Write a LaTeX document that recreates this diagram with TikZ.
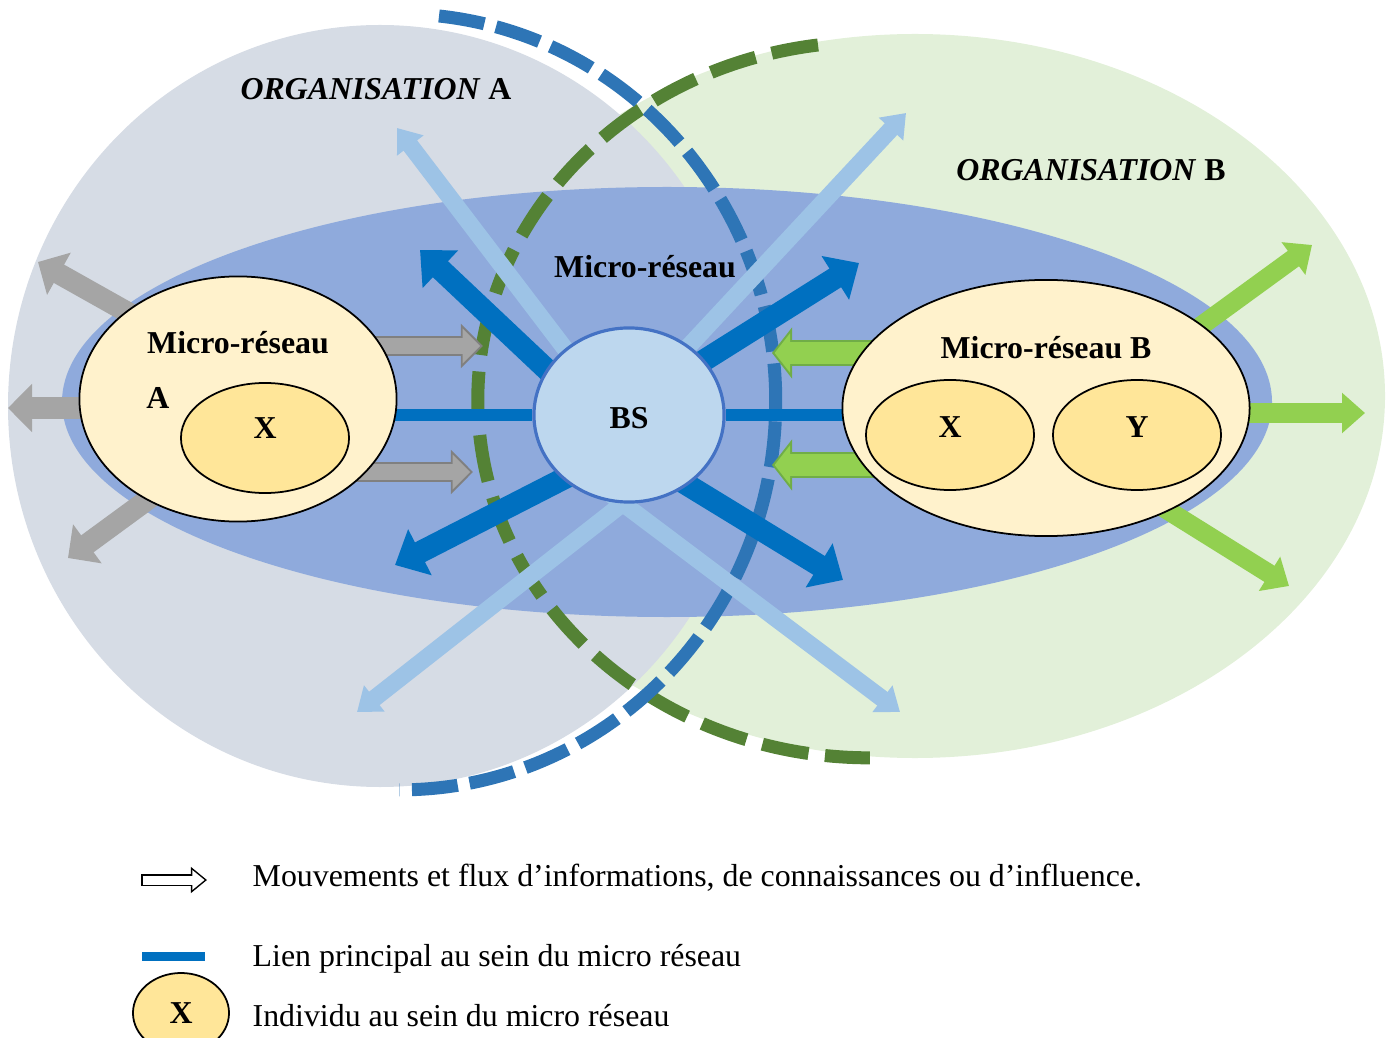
\documentclass[tikz,border=0pt]{standalone}
\usepackage{fontspec}
\setmainfont{Liberation Serif}
\usepackage{xcolor}
\usepackage{tikz}
\usetikzlibrary{arrows.meta,positioning,shapes.geometric}
\pgfdeclarelayer{back}
\pgfdeclarelayer{mid}
\pgfsetlayers{back,mid,main}

\definecolor{orgGray}{HTML}{D6DCE5}
\definecolor{orgGreen}{HTML}{E2F0D9}
\definecolor{mrBlue}{HTML}{8FAADC}
\definecolor{mrFill}{HTML}{FFF2CC}
\definecolor{indFill}{HTML}{FFE699}
\definecolor{bsFill}{HTML}{BDD7EE}
\definecolor{bsEdge}{HTML}{4472C4}
\definecolor{dkBlue}{HTML}{0070C0}
\definecolor{ltBlue}{HTML}{9DC3E6}
\definecolor{dashBlue}{HTML}{2E75B6}
\definecolor{dashGreen}{HTML}{548235}
\definecolor{grArrow}{HTML}{A5A5A5}
\definecolor{grEdge}{HTML}{808080}
\definecolor{gnArrow}{HTML}{92D050}
\definecolor{gnEdge}{HTML}{70AD47}

\newcommand{\figfont}{\fontsize{9.06}{11}\selectfont}

\begin{document}
\begin{tikzpicture}[
  x=0.01cm, y=-0.01cm,
  font=\figfont,
  microbox/.style = {ellipse, draw, line width=0.5pt, fill=mrFill, inner sep=0pt},
  indiv/.style = {ellipse, draw, line width=0.5pt, fill=indFill, inner sep=0pt,
                  minimum width=1.68cm, minimum height=1.1cm, font=\figfont\bfseries},
  lbl/.style = {font=\figfont\bfseries, inner sep=1pt},
  bsnode/.style = {ellipse, draw=bsEdge, line width=0.9pt, fill=bsFill, inner sep=0pt,
                   minimum width=1.9cm, minimum height=1.74cm, font=\figfont\bfseries},
  link/.style = {draw=dkBlue, line width=1.2mm},
  lbarr/.style = {draw=ltBlue, line width=1.7mm, shorten <=-2mm,
                  -{Triangle[width=3.2mm,length=2.2mm]}},
  dbarr/.style = {draw=dkBlue, line width=2.2mm, shorten <=-2mm,
                  -{Triangle[width=5mm,length=2.8mm]}},
  grarr/.style = {draw=grArrow, line width=2.1mm, shorten <=-2mm,
                  -{Triangle[width=4.7mm,length=2.4mm]}},
  grout/.style = {draw=grArrow, line width=1.5mm,
                  -{Triangle[width=3.4mm,length=1.75mm,sep=0.28mm]},
                  preaction={draw=grEdge, line width=1.9mm,
                             -{Triangle[width=4.3mm,length=2.2mm]}}},
  gnarr/.style = {draw=gnArrow, line width=1.9mm, shorten <=-2mm,
                  -{Triangle[width=3.9mm,length=2.3mm]}},
  gnout/.style = {draw=gnArrow, line width=2.1mm,
                  -{Triangle[width=3.86mm,length=1.54mm,sep=0.26mm]},
                  preaction={draw=gnEdge, line width=2.5mm,
                             -{Triangle[width=5mm,length=2mm]}}},
  legarr/.style = {draw=white, line width=0.9mm, shorten <=0.15mm,
                   -{Triangle[width=1.88mm,length=1.21mm,sep=0.24mm]},
                   preaction={draw=black, line width=1.2mm, shorten <=0mm,
                              -{Triangle[width=2.5mm,length=1.6mm]}}},
  dashA/.style = {draw=dashBlue, line width=1.3mm, dash pattern=on 4.6mm off 1.2mm},
  dashB/.style = {draw=dashGreen, line width=1.3mm, dash pattern=on 4.7mm off 1.66mm},
]
\useasboundingbox (0,0) rectangle (1392,1037);

% organisations and the shared micro-network
\begin{pgfonlayer}{back}
  \fill[orgGreen] (915,396) ellipse[x radius=470, y radius=362];
  \fill[orgGray] (380,406) ellipse[x radius=372, y radius=381];
  \fill[mrBlue] (667,402) ellipse[x radius=605, y radius=215];
  \draw[dashB] (818,45) arc[start angle=262.4, end angle=90, x radius=392, y radius=358];
  \draw[dashA] (439,16) arc[start angle=-84, end angle=90, x radius=376, y radius=388];
\end{pgfonlayer}

% micro-networks and individuals
\node[microbox, minimum width=3.17cm, minimum height=2.45cm] at (238,399) (mrA) {};
\node[indiv, text depth=2mm] at (265,438) (xA) {X};
\node[lbl] at (238,343) (labMrA) {Micro-réseau};
\node[lbl] at (158,398) (labA) {A};

\node[bsnode, text height=2.7mm, text depth=0mm] at (629,415) (bs) {BS};

\node[microbox, minimum width=4.07cm, minimum height=2.56cm] at (1046,408) (mrB) {};
\node[indiv, text depth=1.6mm] at (950,435) (xB) {X};
\node[indiv, text depth=1.6mm] at (1137,435) (yB) {Y};
\node[lbl] at (1046,348) (labMrB) {Micro-réseau B};

\node[lbl] at (376,89) (labOrgA) {\textit{ORGANISATION} A};
\node[lbl] at (1091,170) (labOrgB) {\textit{ORGANISATION} B};
\node[lbl] at (645,267) (labMr) {Micro-réseau};

% arrow ends
\coordinate (tLUL) at (397,128);
\coordinate (tLUR) at (906,113);
\coordinate (tLLL) at (357,712);
\coordinate (tLLR) at (900,712);
\coordinate (tDUL) at (420,250);
\coordinate (tDUR) at (859,263);
\coordinate (tDLL) at (395,565);
\coordinate (tDLR) at (843,580);
\coordinate (tGL)  at (8,408);
\coordinate (tGUL) at (38,262);
\coordinate (tGDL) at (68,558);
\coordinate (tGR1) at (483,346);
\coordinate (tGR2) at (473,472);
\coordinate (tNL1) at (772,353);
\coordinate (tNL2) at (772,465);
\coordinate (tNUR) at (1312,245);
\coordinate (tNR)  at (1365,413);
\coordinate (tNLR) at (1289,586);

\begin{pgfonlayer}{mid}
  \draw[lbarr] (bs.134) -- (tLUL);
  \draw[lbarr] (bs.49) -- (tLUR);
  \draw[lbarr] (bs.266) -- (tLLL);
  \draw[lbarr] (bs.266) -- (tLLR);
  \draw[dbarr] (bs.151) -- (tDUL);
  \draw[dbarr] (bs.36) -- (tDUR);
  \draw[dbarr] (bs.224) -- (tDLL);
  \draw[dbarr] (bs.310) -- (tDLR);
  \draw[grarr] (mrA.center |- tGL) -- (tGL);
  \draw[grarr] (mrA.142) -- (tGUL);
  \draw[grarr] (mrA.228) -- (tGDL);
  \draw[grout] (mrA.center |- tGR1) -- (tGR1);
  \draw[grout] (mrA.center |- tGR2) -- (tGR2);
  \draw[gnout] (mrB.center |- tNL1) -- (tNL1);
  \draw[gnout] (mrB.center |- tNL2) -- (tNL2);
  \draw[gnarr] (mrB.28) -- (tNUR);
  \draw[gnarr] (mrB.center |- tNR) -- (tNR);
  \draw[gnarr] (mrB.320) -- (tNLR);
  \draw[link] (bs.west) -- (bs.west -| mrA.center);
  \draw[link] (bs.east) -- (bs.east -| mrB.center);
\end{pgfonlayer}

% legend
\coordinate (lgA1) at (141,880);
\coordinate (lgA2) at (207,880);
\coordinate (lgB1) at (142,956);
\coordinate (lgB2) at (205,956);
\draw[legarr] (lgA1) -- (lgA2);
\draw[link, line width=0.9mm] (lgB1) -- (lgB2);
\node[indiv, minimum width=0.96cm, minimum height=0.8cm] at (181,1013) (lgX) {X};
\node[anchor=base west, inner sep=0pt] at (252,886) (lgT1)
  {Mouvements et flux d’informations, de connaissances ou d’influence.};
\node[anchor=base west, inner sep=0pt] at (252,966) (lgT2)
  {Lien principal au sein du micro réseau};
\node[anchor=base west, inner sep=0pt] at (252,1026) (lgT3)
  {Individu au sein du micro réseau};
\end{tikzpicture}
\end{document}
